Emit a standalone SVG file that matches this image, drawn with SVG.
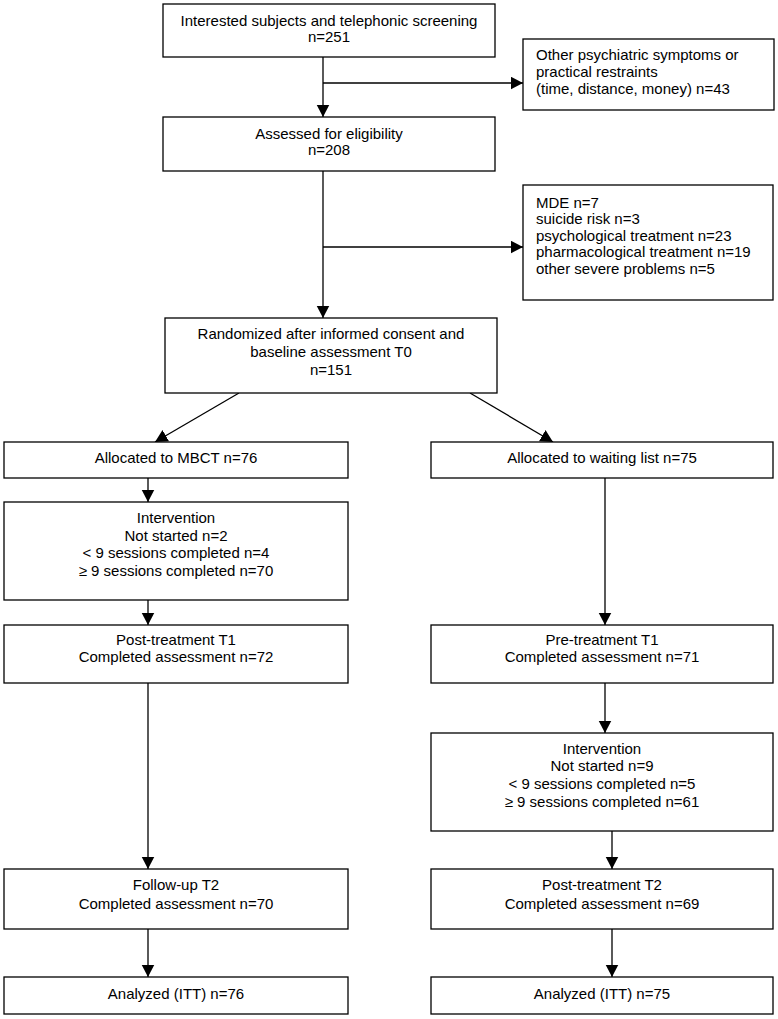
<svg xmlns="http://www.w3.org/2000/svg" width="778" height="1019" viewBox="0 0 778 1019">
<style>
  .box { fill: #ffffff; stroke: #000000; stroke-width: 1.3; }
  .t { font-family: "Liberation Sans", Arial, sans-serif; font-size: 15px; fill: #000000; }
  .c { text-anchor: middle; }
  .l { text-anchor: start; }
  .conn { stroke: #000000; stroke-width: 1.3; fill: none; }
</style>
<defs>
  <marker id="arr" markerUnits="userSpaceOnUse" markerWidth="14" markerHeight="14" refX="12.5" refY="6.5" orient="auto">
    <path d="M0,0 L12.5,6.5 L0,13 z" fill="#000000"/>
  </marker>
</defs>
<rect width="778" height="1019" fill="#ffffff"/>

<g id="connectors">
  <line class="conn" x1="323" y1="57" x2="323" y2="117" marker-end="url(#arr)"/>
  <line class="conn" x1="323" y1="83" x2="523" y2="83" marker-end="url(#arr)"/>
  <line class="conn" x1="323" y1="171" x2="323" y2="318" marker-end="url(#arr)"/>
  <line class="conn" x1="323" y1="247" x2="523" y2="247" marker-end="url(#arr)"/>
  <line class="conn" x1="239" y1="393" x2="155" y2="442" marker-end="url(#arr)"/>
  <line class="conn" x1="470" y1="393" x2="553" y2="442" marker-end="url(#arr)"/>
  <line class="conn" x1="148" y1="478" x2="148" y2="502" marker-end="url(#arr)"/>
  <line class="conn" x1="148" y1="600" x2="148" y2="625" marker-end="url(#arr)"/>
  <line class="conn" x1="148" y1="683" x2="148" y2="869" marker-end="url(#arr)"/>
  <line class="conn" x1="148" y1="929" x2="148" y2="977" marker-end="url(#arr)"/>
  <line class="conn" x1="605" y1="478" x2="605" y2="625" marker-end="url(#arr)"/>
  <line class="conn" x1="605" y1="683" x2="605" y2="733" marker-end="url(#arr)"/>
  <line class="conn" x1="612" y1="831" x2="612" y2="869" marker-end="url(#arr)"/>
  <line class="conn" x1="612" y1="929" x2="612" y2="977" marker-end="url(#arr)"/>
</g>

<g id="screening">
  <rect class="box" x="163" y="4" width="332" height="53"/>
  <text class="t c" x="329" y="25.5">Interested subjects and telephonic screening</text>
  <text class="t c" x="329" y="41.5">n=251</text>
</g>

<g id="excluded1">
  <rect class="box" x="523" y="39" width="251" height="71"/>
  <text class="t l" x="536" y="60">Other psychiatric symptoms or</text>
  <text class="t l" x="536" y="77">practical restraints</text>
  <text class="t l" x="536" y="94">(time, distance, money) n=43</text>
</g>

<g id="eligibility">
  <rect class="box" x="163" y="117" width="332" height="54"/>
  <text class="t c" x="329" y="138.5">Assessed for eligibility</text>
  <text class="t c" x="329" y="155">n=208</text>
</g>

<g id="excluded2">
  <rect class="box" x="523" y="185" width="250" height="115"/>
  <text class="t l" x="536" y="207.5">MDE n=7</text>
  <text class="t l" x="536" y="224">suicide risk n=3</text>
  <text class="t l" x="536" y="240.5">psychological treatment n=23</text>
  <text class="t l" x="536" y="257">pharmacological treatment n=19</text>
  <text class="t l" x="536" y="273.5">other severe problems n=5</text>
</g>

<g id="randomized">
  <rect class="box" x="165" y="318" width="332" height="75"/>
  <text class="t c" x="331" y="338.5">Randomized after informed consent and</text>
  <text class="t c" x="331" y="356.5">baseline assessment T0</text>
  <text class="t c" x="331" y="374.5">n=151</text>
</g>

<g id="alloc-mbct">
  <rect class="box" x="4" y="442" width="344" height="36"/>
  <text class="t c" x="176" y="462.5">Allocated to MBCT n=76</text>
</g>

<g id="alloc-wait">
  <rect class="box" x="431" y="442" width="342" height="36"/>
  <text class="t c" x="602" y="462.5">Allocated to waiting list n=75</text>
</g>

<g id="intervention-mbct">
  <rect class="box" x="4" y="502" width="344" height="98"/>
  <text class="t c" x="176" y="523">Intervention</text>
  <text class="t c" x="176" y="540.5">Not started n=2</text>
  <text class="t c" x="176" y="558">&lt; 9 sessions completed n=4</text>
  <text class="t c" x="176" y="575.5">≥ 9 sessions completed n=70</text>
</g>

<g id="post-t1">
  <rect class="box" x="4" y="625" width="344" height="58"/>
  <text class="t c" x="176" y="645">Post-treatment T1</text>
  <text class="t c" x="176" y="662">Completed assessment n=72</text>
</g>

<g id="pre-t1">
  <rect class="box" x="431" y="625" width="342" height="58"/>
  <text class="t c" x="602" y="644.5">Pre-treatment T1</text>
  <text class="t c" x="602" y="662">Completed assessment n=71</text>
</g>

<g id="intervention-wait">
  <rect class="box" x="431" y="733" width="342" height="98"/>
  <text class="t c" x="602" y="753.5">Intervention</text>
  <text class="t c" x="602" y="771">Not started n=9</text>
  <text class="t c" x="602" y="789">&lt; 9 sessions completed n=5</text>
  <text class="t c" x="602" y="806.5">≥ 9 sessions completed n=61</text>
</g>

<g id="followup-t2">
  <rect class="box" x="4" y="869" width="344" height="60"/>
  <text class="t c" x="176" y="890">Follow-up T2</text>
  <text class="t c" x="176" y="908.5">Completed assessment n=70</text>
</g>

<g id="post-t2">
  <rect class="box" x="431" y="869" width="342" height="60"/>
  <text class="t c" x="602" y="890">Post-treatment T2</text>
  <text class="t c" x="602" y="908.5">Completed assessment n=69</text>
</g>

<g id="analyzed-mbct">
  <rect class="box" x="4" y="977" width="344" height="37"/>
  <text class="t c" x="176" y="998.5">Analyzed (ITT) n=76</text>
</g>

<g id="analyzed-wait">
  <rect class="box" x="431" y="977" width="342" height="37"/>
  <text class="t c" x="602" y="998.5">Analyzed (ITT) n=75</text>
</g>
</svg>
